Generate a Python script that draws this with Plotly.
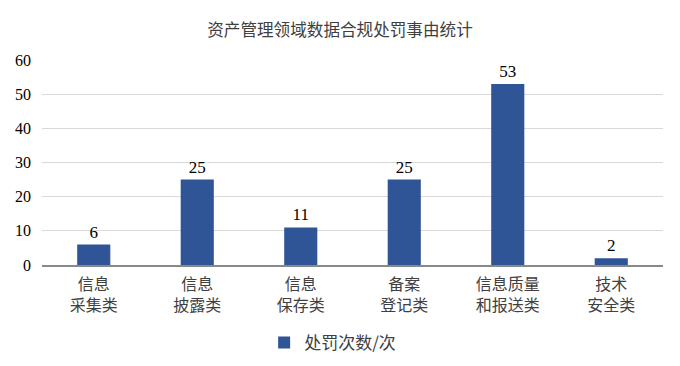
import plotly.graph_objects as go

categories = ["信息<br>采集类", "信息<br>披露类", "信息<br>保存类", "备案<br>登记类", "信息质量<br>和报送类", "技术<br>安全类"]
values = [6, 25, 11, 25, 53, 2]
series_name = "处罚次数/次"
title = "资产管理领域数据合规处罚事由统计"

serif = "Liberation Serif, Times New Roman, DejaVu Serif, serif"
cjk = "Noto Sans CJK SC"

fig = go.Figure()
fig.add_trace(go.Bar(
    x=categories, y=values, name=series_name,
    marker=dict(color="#2F5597", line=dict(width=0)),
    text=values, textposition="outside", cliponaxis=False,
    textfont=dict(family=serif, size=17, color="#000000"),
))
fig.update_layout(
    width=680, height=366,
    margin=dict(l=42, r=17, t=60, b=101, autoexpand=False),
    paper_bgcolor="white", plot_bgcolor="white",
    title=dict(text=title, x=0.5, xanchor="center", y=0.918, yanchor="middle",
               font=dict(family=cjk, size=16.6, color="#404040")),
    bargap=0.68,
    showlegend=True,
    legend=dict(orientation="h", x=0.468, xanchor="center", yref="container",
                y=0.063, yanchor="middle", itemwidth=30,
                font=dict(family=cjk, size=17, color="#404040")),
    xaxis=dict(showline=True, linecolor="#898989", linewidth=1.5, ticks="",
               automargin=False, ticklabelstandoff=4,
               tickfont=dict(family=cjk, size=16, color="#404040")),
    yaxis=dict(range=[0, 60], dtick=10, showgrid=True, gridcolor="#D9D9D9", gridwidth=1,
               zeroline=False, ticks="", ticklabelstandoff=10, automargin=False,
               tickfont=dict(family=serif, size=16, color="#000000")),
)
fig.write_html("out.html")
